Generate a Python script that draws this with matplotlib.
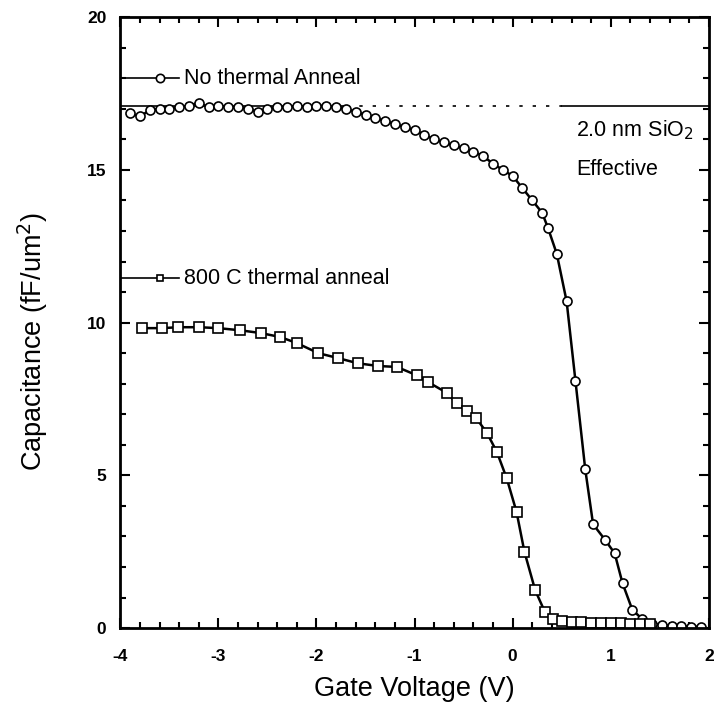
import numpy as np
import matplotlib
matplotlib.use('Agg')
import matplotlib.pyplot as plt
from matplotlib.ticker import MultipleLocator

# no thermal anneal (open circles)
v_none = [-3.9, -3.8, -3.7, -3.6, -3.5, -3.4, -3.3, -3.2, -3.1, -3.0,
          -2.9, -2.8, -2.7, -2.6, -2.5, -2.4, -2.3, -2.2, -2.1, -2.0,
          -1.9, -1.8, -1.7, -1.6, -1.5, -1.4, -1.3, -1.2, -1.1, -1.0,
          -0.9, -0.8, -0.7, -0.6, -0.5, -0.4, -0.3, -0.2, -0.1, 0.0,
          0.1, 0.2, 0.3, 0.36, 0.45, 0.55, 0.64, 0.74, 0.82, 0.94,
          1.04, 1.12, 1.22, 1.32, 1.42, 1.52, 1.62, 1.72, 1.82, 1.92]
c_none = [16.85, 16.75, 16.95, 17.0, 17.0, 17.05, 17.1, 17.2, 17.05, 17.1,
          17.05, 17.05, 17.0, 16.9, 17.0, 17.05, 17.05, 17.1, 17.05, 17.1,
          17.1, 17.05, 17.0, 16.9, 16.8, 16.7, 16.6, 16.5, 16.4, 16.3,
          16.15, 16.0, 15.9, 15.8, 15.7, 15.6, 15.45, 15.2, 15.0, 14.8,
          14.4, 14.0, 13.6, 13.1, 12.25, 10.7, 8.1, 5.2, 3.4, 2.9,
          2.45, 1.47, 0.6, 0.3, 0.15, 0.1, 0.08, 0.06, 0.05, 0.05]

# 800 C thermal anneal (open squares)
v_800 = [-3.78, -3.57, -3.41, -3.2, -3.0, -2.78, -2.57, -2.37, -2.2, -1.98,
         -1.78, -1.58, -1.37, -1.18, -0.98, -0.86, -0.67, -0.57, -0.47, -0.37,
         -0.26, -0.16, -0.06, 0.04, 0.12, 0.23, 0.33, 0.41, 0.5, 0.6,
         0.7, 0.8, 0.9, 1.0, 1.1, 1.2, 1.3, 1.4]
c_800 = [9.82, 9.82, 9.85, 9.85, 9.82, 9.75, 9.66, 9.53, 9.33, 9.0,
         8.84, 8.67, 8.58, 8.55, 8.28, 8.05, 7.7, 7.36, 7.1, 6.87,
         6.38, 5.76, 4.9, 3.8, 2.5, 1.24, 0.52, 0.3, 0.22, 0.2,
         0.2, 0.18, 0.18, 0.18, 0.17, 0.15, 0.15, 0.12]

sio2_level = 17.1
sio2_dotted = [-1.7, 0.5]

plt.rcParams['font.family'] = ['Liberation Sans', 'DejaVu Sans']
plt.rcParams['axes.unicode_minus'] = False

fig = plt.figure(figsize=(7.16, 7.13), dpi=100)
ax = fig.add_axes([0.168, 0.119, 0.822, 0.857])

# 2.0 nm SiO2 reference line
ax.plot([-4, sio2_dotted[0]], [sio2_level] * 2, color='black', lw=1.2)
ax.plot(sio2_dotted, [sio2_level] * 2, color='black', lw=1.2, ls=(0, (2, 6)))
ax.plot([sio2_dotted[1], 2], [sio2_level] * 2, color='black', lw=1.2)

ax.plot(v_none, c_none, color='black', lw=1.8, marker='o', ms=6.5,
        mfc='white', mec='black', mew=1.2)
ax.plot(v_800, c_800, color='black', lw=1.8, marker='s', ms=6.5,
        mfc='white', mec='black', mew=1.2)

# inline legend
ax.plot([-4, -3.4], [18, 18], color='black', lw=1.2)
ax.plot([-3.6], [18], marker='o', ms=6, mfc='white', mec='black', mew=1.2)
ax.text(-3.35, 18, 'No thermal Anneal', fontsize=15.5, va='center')
ax.plot([-4, -3.4], [11.45, 11.45], color='black', lw=1.2)
ax.plot([-3.6], [11.45], marker='s', ms=5, mfc='white', mec='black', mew=1.2)
ax.text(-3.35, 11.45, '800 C thermal anneal', fontsize=15.5, va='center')

ax.text(0.65, 16.3, r'2.0 nm SiO$_2$', fontsize=15.5, va='center')
ax.text(0.65, 15.0, 'Effective', fontsize=15.5, va='center')

ax.set_xlim(-4, 2)
ax.set_ylim(0, 20)
ax.xaxis.set_major_locator(MultipleLocator(1))
ax.xaxis.set_minor_locator(MultipleLocator(0.2))
ax.yaxis.set_major_locator(MultipleLocator(5))
ax.yaxis.set_minor_locator(MultipleLocator(1))
ax.tick_params(which='both', direction='in', top=True, right=True,
               labelsize=12.5, width=1.5)
ax.tick_params(which='major', length=7)
ax.tick_params(axis='x', which='major', pad=15)
ax.tick_params(axis='y', which='major', pad=10)
ax.tick_params(which='minor', length=4)
for lbl in ax.get_xticklabels() + ax.get_yticklabels():
    lbl.set_fontweight('bold')
for s in ax.spines.values():
    s.set_linewidth(2)

ax.set_xlabel('Gate Voltage (V)', fontsize=19.5, labelpad=9)
ax.set_ylabel(r'Capacitance (fF/um$^2$)', fontsize=19.5)
ax.yaxis.set_label_coords(-0.12, 0.47)

fig.savefig('out.png', dpi=100)
